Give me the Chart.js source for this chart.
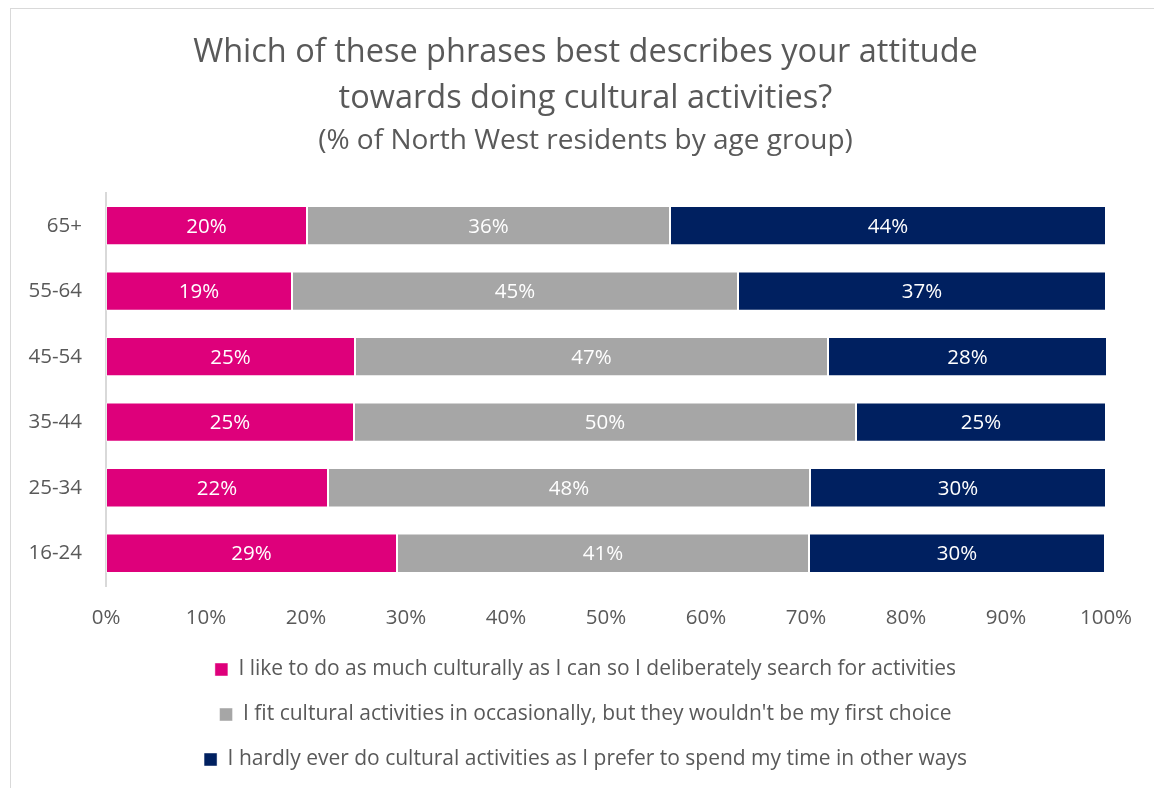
<!DOCTYPE html>
<html>
<head>
<meta charset="utf-8">
<title>Attitude towards cultural activities by age group</title>
<script src="https://cdn.jsdelivr.net/npm/chart.js@4/dist/chart.umd.min.js"></script>
<style>
  html, body { margin: 0; padding: 0; background: #fff; overflow: hidden; }
  #frame {
    position: absolute; left: 10px; top: 8px; width: 1200px; height: 900px;
    border-left: 1px solid #d9d9d9; border-top: 1px solid #d9d9d9;
  }
  #holder { position: absolute; left: 0; top: 0; width: 1171px; height: 780px; }
</style>
</head>
<body>
<div id="frame"></div>
<div id="holder"><canvas id="attitudeChart"></canvas></div>
<script>
// age bands, top to bottom
var ageGroups = ['65+', '55-64', '45-54', '35-44', '25-34', '16-24'];

// % of residents in each band, per attitude
var searchOut  = [20.1, 18.6, 24.9, 24.8, 22.2, 29.1];
var fitIn      = [36.3, 44.6, 47.3, 50.2, 48.2, 41.2];
var hardlyEver = [43.6, 36.8, 27.9, 25.0, 29.6, 29.6];

var seriesNames = [
    'I like to do as much culturally as I can so I deliberately search for activities',
    "I fit cultural activities in occasionally, but they wouldn't be my first choice",
    'I hardly ever do cultural activities as I prefer to spend my time in other ways'
];
var xTicks = [0, 10, 20, 30, 40, 50, 60, 70, 80, 90, 100];

var textGrey = '#595959';
var fontName = '"Open Sans", Lato, sans-serif';

// writes the rounded percentage in the middle of every bar segment
var segmentLabels = {
    id: 'segmentLabels',
    afterDatasetsDraw: function(chart) {
        var ctx = chart.ctx;
        ctx.save();
        ctx.fillStyle = '#ffffff';
        ctx.font = '20.5px ' + fontName;
        ctx.textAlign = 'center';
        ctx.textBaseline = 'middle';
        chart.data.datasets.forEach(function(ds, i) {
            chart.getDatasetMeta(i).data.forEach(function(bar, j) {
                var p = bar.getProps(['x', 'base', 'y'], true);
                ctx.fillText(Math.round(ds.data[j]) + '%', (p.x + p.base) / 2, p.y + 1);
            });
        });
        ctx.restore();
    }
};

var barStyle = { borderWidth: 1, borderColor: 'rgba(255,255,255,0.45)', borderSkipped: false,
                 barPercentage: 0.6, categoryPercentage: 1.0 };

var context = document.getElementById('attitudeChart').getContext('2d');
var myChart = new Chart(context, {
    type: 'bar',
    data: {
        labels: ageGroups,
        datasets: [
            Object.assign({ label: seriesNames[0], data: searchOut,  backgroundColor: '#de007b' }, barStyle),
            Object.assign({ label: seriesNames[1], data: fitIn,      backgroundColor: '#a6a6a6' }, barStyle),
            Object.assign({ label: seriesNames[2], data: hardlyEver, backgroundColor: '#002060' }, barStyle)
        ]
    },
    plugins: [segmentLabels],
    options: {
        indexAxis: 'y',
        responsive: true,
        maintainAspectRatio: false,
        animation: false,
        layout: { padding: 0 },
        scales: {
            x: {
                stacked: true,
                min: 0,
                max: 100,
                afterBuildTicks: function(axis) {
                    axis.ticks = xTicks.map(function(v) { return { value: v }; });
                },
                afterFit: function(axis) { axis.height = 49; },
                grid: { display: false, drawTicks: false },
                border: { display: false },
                ticks: {
                    color: textGrey,
                    font: { family: fontName, size: 20.5 },
                    padding: 20,
                    maxRotation: 0,
                    callback: function(v) { return v + '%'; }
                }
            },
            y: {
                stacked: true,
                afterFit: function(axis) { axis.width = 106; },
                grid: { display: false, drawTicks: false },
                border: { display: true, color: '#d9d9d9', width: 2 },
                ticks: {
                    color: textGrey,
                    font: { family: fontName, size: 20.5 },
                    padding: 24
                }
            },
            // empty band on the right, keeps room for the last x label
            yRight: {
                axis: 'y',
                type: 'category',
                position: 'right',
                afterFit: function(axis) { axis.width = 65; },
                grid: { display: false, drawTicks: false },
                border: { display: false },
                ticks: { display: false }
            }
        },
        plugins: {
            title: {
                display: true,
                text: ['Which of these phrases best describes your attitude', 'towards doing cultural activities?'],
                color: textGrey,
                font: { family: fontName, size: 32.5, weight: 'normal', lineHeight: 1.42 },
                padding: { top: 30, bottom: 2 }
            },
            subtitle: {
                display: true,
                text: '(% of North West residents by age group)',
                color: textGrey,
                font: { family: fontName, size: 28, weight: 'normal', lineHeight: 1.2 },
                padding: { top: 0, bottom: 35 }
            },
            legend: {
                position: 'bottom',
                labels: {
                    color: textGrey,
                    font: { family: fontName, size: 21 },
                    boxWidth: 13,
                    boxHeight: 13,
                    padding: 24
                }
            },
            tooltip: { enabled: false }
        }
    }
});
</script>
</body>
</html>
